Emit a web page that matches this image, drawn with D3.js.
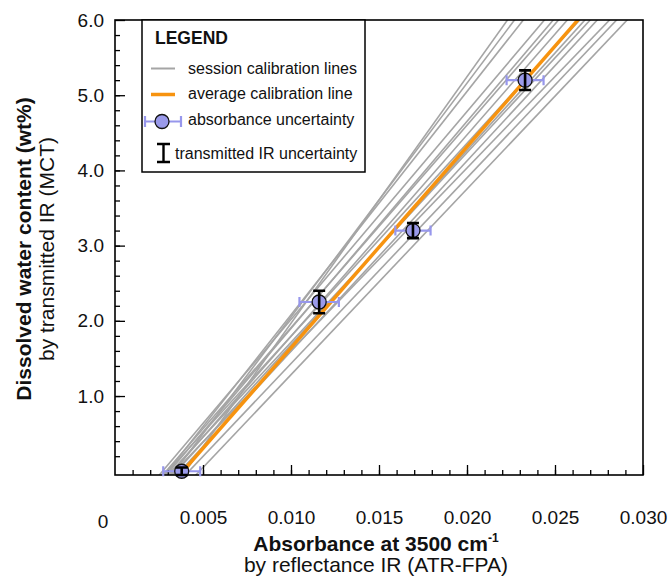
<!DOCTYPE html>
<html>
<head>
<meta charset="utf-8">
<script src="https://cdn.jsdelivr.net/npm/d3@7"></script>
<style>
  body { margin: 0; background: #fff; }
  svg { font-family: "Liberation Sans", Arial, sans-serif; }
</style>
</head>
<body>
<script>
// calibration standards (absorbance vs water content)
var pointAbs = [0.00379, 0.0116, 0.01693, 0.0233];
var pointWater = [0.0, 2.25, 3.2, 5.2];
var absErr = [0.00105, 0.00112, 0.001, 0.00105];
var waterErr = [0.05, 0.15, 0.1, 0.13];

// session calibration lines: absorbance where each line hits 0 and 6 wt%
var sessionAbsAt0 = [0.0040, 0.0034, 0.0030, 0.0027, 0.0031, 0.0029, 0.0033, 0.0030, 0.0035, 0.0032, 0.0037, 0.0034, 0.0042, 0.0048];
var sessionAbsAt6 = [0.0223, 0.0227, 0.0232, 0.0244, 0.0249, 0.0252, 0.0257, 0.0264, 0.0267, 0.0270, 0.0274, 0.0281, 0.0285, 0.0291];
var averageAbs = [0.00386, 0.0263];

var xTicks = [0.005, 0.010, 0.015, 0.020, 0.025, 0.030];
var yTicks = [1, 2, 3, 4, 5, 6];

var W = 669, H = 577;
var mLeft = 115, mRight = 643, mTop = 20, mBottom = 475;

var svg = d3.select("body").append("svg")
  .attr("width", W).attr("height", H);

var x = d3.scaleLinear().domain([0, 0.030]).range([mLeft, mRight]);
var y = d3.scaleLinear().domain([-0.05, 6.0]).range([mBottom, mTop]);

svg.append("clipPath").attr("id", "plot")
  .append("rect")
  .attr("x", mLeft).attr("y", mTop)
  .attr("width", mRight - mLeft).attr("height", mBottom - mTop);

var line = d3.line().x(function(d) { return x(d[0]); }).y(function(d) { return y(d[1]); });

var lines = svg.append("g").attr("clip-path", "url(#plot)");

// extend each line a little past the frame, the clip trims it
function ends(a0, a6) {
  var s = (a6 - a0) / 6;
  return [[a0 - s, -1], [a0 + s * 7, 7]];
}

lines.selectAll("path.session")
  .data(d3.range(sessionAbsAt0.length))
  .enter()
  .append("path")
  .attr("class", "session")
  .attr("d", function(i) { return line(ends(sessionAbsAt0[i], sessionAbsAt6[i])); })
  .attr("fill", "none")
  .attr("stroke", "#a5a5a5")
  .attr("stroke-width", 1.6);

lines.append("path")
  .attr("d", line(ends(averageAbs[0], averageAbs[1])))
  .attr("fill", "none")
  .attr("stroke", "#f7930f")
  .attr("stroke-width", 3.5);

// axes: ticks point inward
var minorX = d3.range(1, 30).map(function(i) { return i / 1000; });
var minorY = d3.range(1, 30).map(function(i) { return i / 5; });

svg.append("g")
  .attr("transform", "translate(0," + mBottom + ")")
  .call(d3.axisBottom(x).tickValues(minorX).tickSize(-5).tickFormat(""))
  .call(function(g) { g.select(".domain").remove(); });

var gx = svg.append("g")
  .attr("transform", "translate(0," + mBottom + ")")
  .call(d3.axisBottom(x).tickValues(xTicks).tickSize(-10).tickPadding(36).tickFormat(d3.format(".3f")));
gx.select(".domain").remove();

svg.append("g")
  .attr("transform", "translate(" + mLeft + ",0)")
  .call(d3.axisLeft(y).tickValues(minorY).tickSize(-5).tickFormat(""))
  .call(function(g) { g.select(".domain").remove(); });

var gy = svg.append("g")
  .attr("transform", "translate(" + mLeft + ",0)")
  .call(d3.axisLeft(y).tickValues(yTicks).tickSize(-10).tickPadding(11).tickFormat(d3.format(".1f")));
gy.select(".domain").remove();

svg.selectAll(".tick line").attr("stroke", "#000").attr("stroke-width", 1.3);
svg.selectAll(".tick text").attr("font-size", 19).attr("fill", "#111")
  .attr("font-family", "Liberation Sans, Arial, sans-serif");

svg.append("text")
  .attr("x", 103).attr("y", 528)
  .attr("text-anchor", "middle")
  .attr("font-size", 19).attr("fill", "#111")
  .text("0");

svg.append("rect")
  .attr("x", mLeft).attr("y", mTop)
  .attr("width", mRight - mLeft).attr("height", mBottom - mTop)
  .attr("fill", "none").attr("stroke", "#000").attr("stroke-width", 1.6);

// points with error bars
var pts = svg.append("g");

pts.selectAll("g.pt")
  .data(d3.range(pointAbs.length))
  .enter()
  .append("g")
  .attr("class", "pt")
  .each(function(i) {
    var g = d3.select(this);
    var cx = x(pointAbs[i]), cy = y(pointWater[i]);
    var x0 = x(pointAbs[i] - absErr[i]), x1 = x(pointAbs[i] + absErr[i]);
    g.append("path")
      .attr("d", "M" + x0 + "," + (cy - 5) + "V" + (cy + 5) + "M" + x0 + "," + cy + "H" + x1 + "M" + x1 + "," + (cy - 5) + "V" + (cy + 5))
      .attr("fill", "none").attr("stroke", "#9797ec").attr("stroke-width", 2.2);
    g.append("circle")
      .attr("cx", cx).attr("cy", cy).attr("r", 7)
      .attr("fill", "#9a9aea").attr("stroke", "#111").attr("stroke-width", 1.3);
    var y0 = y(pointWater[i] - waterErr[i]), y1 = y(pointWater[i] + waterErr[i]);
    g.append("path")
      .attr("d", "M" + (cx - 6) + "," + y0 + "H" + (cx + 6) + "M" + cx + "," + y0 + "V" + y1 + "M" + (cx - 6) + "," + y1 + "H" + (cx + 6))
      .attr("fill", "none").attr("stroke", "#000").attr("stroke-width", 2.6);
  });

// legend
var lg = svg.append("g");
lg.append("rect")
  .attr("x", 142).attr("y", mTop)
  .attr("width", 223).attr("height", 152)
  .attr("fill", "#fff").attr("stroke", "#000").attr("stroke-width", 1.5);

lg.append("text").attr("x", 155).attr("y", 44)
  .attr("font-size", 17.5).attr("font-weight", "bold").attr("fill", "#111")
  .text("LEGEND");

lg.append("line").attr("x1", 151).attr("x2", 175).attr("y1", 68.5).attr("y2", 68.5)
  .attr("stroke", "#a5a5a5").attr("stroke-width", 2);
lg.append("text").attr("x", 188).attr("y", 74).attr("font-size", 16).attr("fill", "#111")
  .text("session calibration lines");

lg.append("line").attr("x1", 151).attr("x2", 175).attr("y1", 94.5).attr("y2", 94.5)
  .attr("stroke", "#f7930f").attr("stroke-width", 3.5);
lg.append("text").attr("x", 188).attr("y", 99).attr("font-size", 16).attr("fill", "#111")
  .text("average calibration line");

lg.append("path")
  .attr("d", "M145,116V127M145,121.5H181M181,116V127")
  .attr("fill", "none").attr("stroke", "#9797ec").attr("stroke-width", 2.2);
lg.append("circle").attr("cx", 162).attr("cy", 121.5).attr("r", 7)
  .attr("fill", "#9a9aea").attr("stroke", "#111").attr("stroke-width", 1.3);
lg.append("text").attr("x", 188).attr("y", 125).attr("font-size", 16).attr("fill", "#111")
  .text("absorbance uncertainty");

lg.append("path")
  .attr("d", "M157,144H170M163.5,144V162M157,162H170")
  .attr("fill", "none").attr("stroke", "#000").attr("stroke-width", 2.4);
lg.append("text").attr("x", 175).attr("y", 159).attr("font-size", 16).attr("fill", "#111")
  .text("transmitted IR uncertainty");

// axis titles
var xt = svg.append("text")
  .attr("x", 376).attr("y", 551)
  .attr("text-anchor", "middle")
  .attr("font-size", 21).attr("font-weight", "bold").attr("fill", "#111");
xt.append("tspan").text("Absorbance at 3500 cm");
xt.append("tspan").attr("dy", -9).attr("font-size", 12).text("-1");

svg.append("text")
  .attr("x", 376).attr("y", 572)
  .attr("text-anchor", "middle")
  .attr("font-size", 21).attr("fill", "#111")
  .text("by reflectance IR (ATR-FPA)");

svg.append("text")
  .attr("transform", "translate(31,249) rotate(-90)")
  .attr("text-anchor", "middle")
  .attr("font-size", 21).attr("font-weight", "bold").attr("fill", "#111")
  .text("Dissolved water content (wt%)");

svg.append("text")
  .attr("transform", "translate(54,249) rotate(-90)")
  .attr("text-anchor", "middle")
  .attr("font-size", 21).attr("fill", "#111")
  .text("by transmitted IR (MCT)");
</script>
</body>
</html>
